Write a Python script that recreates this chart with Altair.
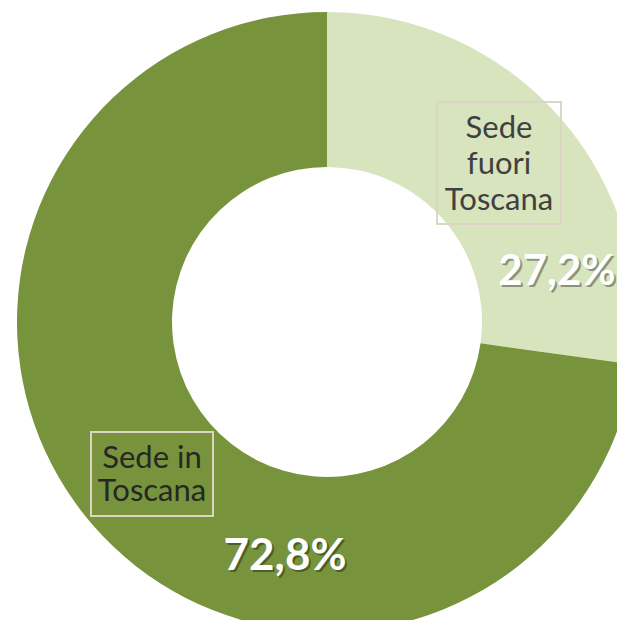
import altair as alt
import pandas as pd

categories = ["Sede fuori Toscana", "Sede in Toscana"]
values = [27.2, 72.8]
order = [1, 2]
label_lines = ["Sede\nfuori\nToscana", "Sede in\nToscana"]
pct_labels = ["27,2%", "72,8%"]
colors = ["#D7E4BD", "#77933C"]
text_colors = ["#404040", "#262626"]

df = pd.DataFrame({
    "cat": categories,
    "val": values,
    "ord": order,
    "lab": label_lines,
    "pct": pct_labels,
})

CX, CY = 319, 314
FONT = "Lato"

base = alt.Chart(df)

arc = base.mark_arc(innerRadius=155, outerRadius=310, strokeWidth=0).encode(
    theta=alt.Theta("val:Q", stack=True),
    order=alt.Order("ord:Q"),
    color=alt.Color("cat:N", scale=alt.Scale(domain=categories, range=colors), legend=None),
    x=alt.value(CX),
    y=alt.value(CY),
)

# label boxes
box1 = alt.Chart(pd.DataFrame({"c": [categories[0]]})).mark_rect(
    fill=None, stroke="#DAD6C3", strokeWidth=2
).encode(x=alt.value(429), x2=alt.value(553), y=alt.value(94), y2=alt.value(216))
box2 = alt.Chart(pd.DataFrame({"c": [categories[1]]})).mark_rect(
    fill=None, stroke="#DAD6C3", strokeWidth=2
).encode(x=alt.value(83), x2=alt.value(205), y=alt.value(424), y2=alt.value(508))

lab1 = base.transform_filter(alt.datum.ord == 1).mark_text(
    font=FONT, fontSize=31, lineBreak="\n", lineHeight=36, color=text_colors[0],
    align="center", baseline="middle"
).encode(text="lab:N", x=alt.value(491), y=alt.value(121))
lab2 = base.transform_filter(alt.datum.ord == 2).mark_text(
    font=FONT, fontSize=31, lineBreak="\n", lineHeight=33, color=text_colors[1],
    align="center", baseline="middle"
).encode(text="lab:N", x=alt.value(144), y=alt.value(451))

def pct_layer(o, x, y, size):
    f = base.transform_filter(alt.datum.ord == o)
    sh = f.mark_text(font=FONT, fontSize=size, fontWeight="bold", color="#000000", opacity=0.35,
                     align="center", baseline="middle").encode(
        text="pct:N", x=alt.value(x + 2), y=alt.value(y + 2))
    tx = f.mark_text(font=FONT, fontSize=size, fontWeight="bold", color="white",
                     align="center", baseline="middle").encode(
        text="pct:N", x=alt.value(x), y=alt.value(y))
    return sh + tx

chart = alt.layer(
    arc, box1, box2, lab1, lab2, pct_layer(1, 549, 264, 42), pct_layer(2, 277, 549, 44)
).properties(
    width=609, height=612, padding=0, background="white",
    autosize=alt.AutoSizeParams(type="none")
).configure_view(stroke=None)

chart.save("out.html", embed_options={"renderer": "svg", "actions": False})
